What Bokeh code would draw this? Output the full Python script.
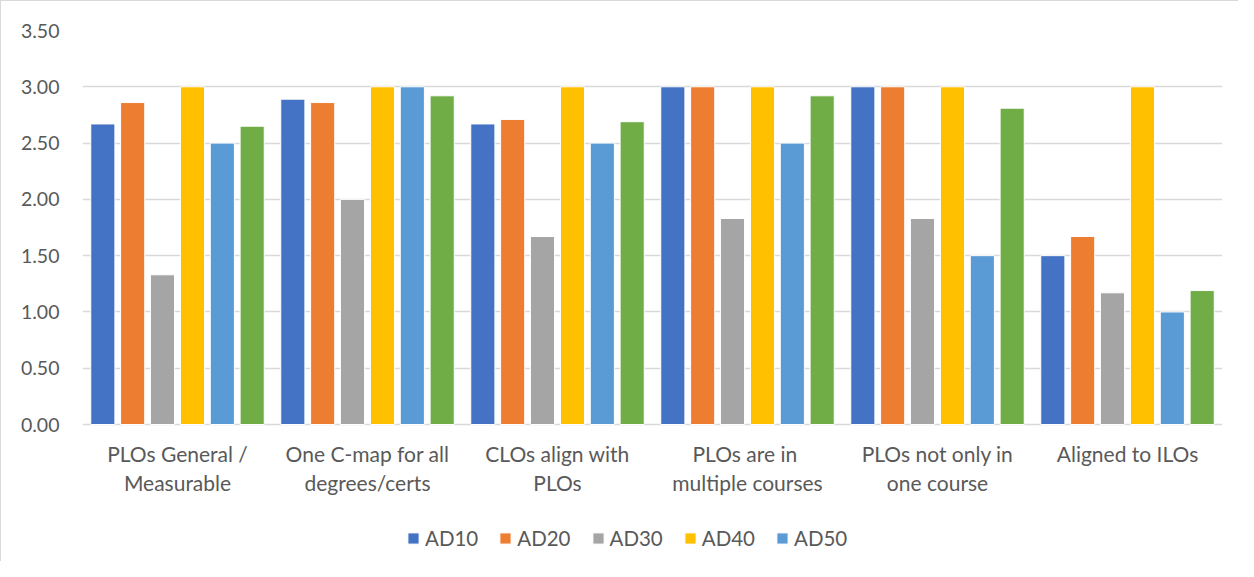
from bokeh.plotting import figure
from bokeh.models import ColumnDataSource, FactorRange, Legend, LegendItem, FixedTicker, NumeralTickFormatter
from bokeh.core.properties import value
from bokeh.transform import dodge
from bokeh.embed import file_html
from bokeh.resources import INLINE

categories = ["PLOs General /\nMeasurable", "One C-map for all\ndegrees/certs", "CLOs align with\nPLOs",
              "PLOs are  in\nmultiple courses", "PLOs not only in\none course", "Aligned to ILOs"]
ad10 = [2.67, 2.89, 2.67, 3.00, 3.00, 1.50]
ad20 = [2.86, 2.86, 2.71, 3.00, 3.00, 1.67]
ad30 = [1.33, 2.00, 1.67, 1.83, 1.83, 1.17]
ad40 = [3.00, 3.00, 3.00, 3.00, 3.00, 3.00]
ad50 = [2.50, 3.00, 2.50, 2.50, 1.50, 1.00]
ad60 = [2.65, 2.92, 2.69, 2.92, 2.81, 1.19]
y_ticks = [0.0, 0.5, 1.0, 1.5, 2.0, 2.5, 3.0, 3.5]

series = ["AD10", "AD20", "AD30", "AD40", "AD50", "AD60"]
colors = ["#4472C4", "#ED7D31", "#A5A5A5", "#FFC000", "#5B9BD5", "#70AD47"]
values = [ad10, ad20, ad30, ad40, ad50, ad60]

data = {"cat": categories}
for s, v in zip(series, values):
    data[s] = v
source = ColumnDataSource(data)

FONT = "Lato"
TXT = "#595959"

p = figure(x_range=FactorRange(*categories, range_padding=0), y_range=(-1.2256, 3.5),
           width=1238, height=561, output_backend="svg", toolbar_location=None,
           min_border_left=81, min_border_right=17, min_border_top=29, min_border_bottom=0)
p.styles = {"border-left": "1px solid #D9D9D9", "border-top": "1px solid #D9D9D9"}

offsets = [-0.393, -0.236, -0.079, 0.079, 0.236, 0.393]
items = []
for s, c, off in zip(series, colors, offsets):
    r = p.vbar(x=dodge("cat", off, range=p.x_range), top=s, width=0.127, source=source,
               fill_color=c, line_color="white", line_width=1)
    if s != "AD60":
        items.append(LegendItem(label=s, renderers=[r]))

# category labels under the baseline
p.text(x="cat", y=-0.147, text="cat", source=source, text_align="center", text_baseline="top",
       text_font=value(FONT), text_font_size="21px", text_color=TXT, text_line_height=1.14)

p.outline_line_color = None
p.xaxis.visible = False
p.xgrid.grid_line_color = None
p.ygrid.grid_line_color = "#D9D9D9"
p.ygrid.grid_line_width = 1.5
p.yaxis.ticker = FixedTicker(ticks=y_ticks)
p.yaxis.formatter = NumeralTickFormatter(format="0.00")
p.yaxis.axis_line_color = None
p.yaxis.major_tick_line_color = None
p.yaxis.minor_tick_line_color = None
p.yaxis.major_label_text_font = FONT
p.yaxis.major_label_text_font_size = "19.5px"
p.yaxis.major_label_text_color = TXT
p.yaxis.major_label_standoff = 17

legend = Legend(items=items, orientation="horizontal", location=(324, 12),
                label_text_font=FONT, label_text_font_size="20.5px", label_text_color=TXT,
                glyph_width=14, glyph_height=14, spacing=20, label_standoff=5,
                border_line_color=None, background_fill_alpha=0, margin=0, padding=4)
p.add_layout(legend, "center")

open("out.html", "w").write(file_html(p, INLINE))
